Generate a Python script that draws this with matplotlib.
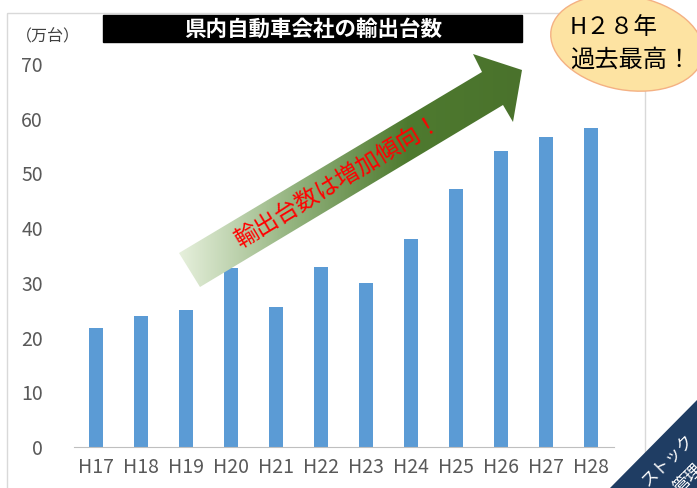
import matplotlib.pyplot as plt
import numpy as np
from matplotlib.patches import Ellipse, Polygon, Rectangle
from matplotlib.colors import LinearSegmentedColormap

plt.rcParams['font.family'] = ['Noto Sans CJK JP', 'DejaVu Sans']

years = ['H17', 'H18', 'H19', 'H20', 'H21', 'H22', 'H23', 'H24', 'H25', 'H26', 'H27', 'H28']
exports = [21.7, 23.9, 25.1, 32.7, 25.6, 32.9, 30.0, 38.0, 47.2, 54.1, 56.7, 58.3]
yticks = [0, 10, 20, 30, 40, 50, 60, 70]

W, H = 697, 488
fig = plt.figure(figsize=(W / 100, H / 100), dpi=100)

# overlay axes in pixel coords for decorations
bg = fig.add_axes([0, 0, 1, 1])
bg.set_xlim(0, W)
bg.set_ylim(H, 0)
bg.axis('off')
bg.add_patch(Rectangle((7, 13), 638, 500, fill=False, edgecolor='#d9d9d9', lw=1))

ax = fig.add_axes([73.5 / W, (H - 447) / H, 540 / W, (447 - 64) / H])
x = np.arange(len(years))
ax.bar(x, exports, width=0.31, color='#5b9bd5')
ax.set_xlim(-0.5, len(years) - 0.5)
ax.set_ylim(0, 70)
ax.set_yticks(yticks)
ax.set_xticks(x, years)
ax.tick_params(length=0, colors='#595959', labelsize=14)
ax.tick_params(axis='y', pad=22)
ax.tick_params(axis='x', pad=7)
for s in ['top', 'right', 'left']:
    ax.spines[s].set_visible(False)
ax.spines['bottom'].set_color('#bfbfbf')
ax.patch.set_alpha(0)

top = fig.add_axes([0, 0, 1, 1])
top.set_xlim(0, W)
top.set_ylim(H, 0)
top.axis('off')

fig.text(16 / W, 1 - 37 / H, '（万台）', fontsize=11.5, color='#404040', va='center', ha='left')
top.add_patch(Rectangle((103, 15), 419, 27, color='black'))
top.text(313, 29, '県内自動車会社の輸出台数', color='white', fontsize=15.5,
         ha='center', va='center', fontweight='bold')

# gradient arrow
pts = [(179, 253), (482, 72), (473, 54), (522, 70), (513, 122), (503, 105), (200, 287)]
poly = Polygon(pts, closed=True, facecolor='none', edgecolor='none')
top.add_patch(poly)
gx = np.linspace(0, 1, 256)
grad = np.vstack([gx, gx])
cmap = LinearSegmentedColormap.from_list('g', ['#e6f0dc', '#93b37e', '#4e7a2f', '#4a722c'])
im = top.imshow(grad, extent=(179, 522, 287, 54), cmap=cmap, aspect='auto', zorder=2)
im.set_clip_path(poly)
top.text(338, 182, '輸出台数は増加傾向！', color='red', fontsize=17, rotation=31,
         ha='center', va='center', rotation_mode='anchor', zorder=3)

# ellipse callout
top.add_patch(Ellipse((627, 43), 154, 94, angle=10, facecolor='#fde3a2',
                      edgecolor='#f4b183', lw=1, zorder=4))
top.text(570, 28, 'H２８年', fontsize=17, ha='left', va='center', zorder=5)
top.text(570, 60, '過去最高！', fontsize=17.5, ha='left', va='center', zorder=5)

# corner badge
tri = Polygon([(697, 400), (697, 488), (610, 488)], closed=True,
              facecolor='#1f3d63', edgecolor='none', zorder=4)
top.add_patch(tri)
t = top.text(668, 460, 'ストック', color='white', fontsize=12, rotation=45,
             ha='center', va='center', zorder=5)
t.set_clip_path(tri)
t2 = top.text(688, 478, '管理', color='white', fontsize=12, rotation=45,
              ha='center', va='center', zorder=5)
t2.set_clip_path(tri)

fig.savefig('out.png', dpi=100)
